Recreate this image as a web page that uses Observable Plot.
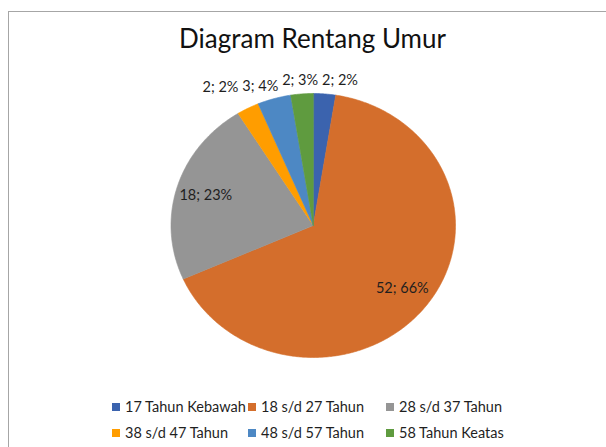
<!DOCTYPE html>
<html>
<head>
<meta charset="utf-8">
<script src="https://cdn.jsdelivr.net/npm/d3@7"></script>
<script src="https://cdn.jsdelivr.net/npm/@observablehq/plot@0.6"></script>
<style>
  html, body { margin: 0; padding: 0; background: #fff; }
  body { width: 606px; height: 447px; position: relative; overflow: hidden; font-family: Lato, "Open Sans", sans-serif; }
  #frame { position: absolute; left: 8px; top: 11px; width: 700px; height: 600px; border-left: 1px solid #a6a6a6; border-top: 1px solid #a6a6a6; box-sizing: border-box; }
  #chart { position: absolute; left: 0; top: 0; }
  #title { position: absolute; left: 312.5px; top: 22px; transform: translateX(-50%); font-size: 26px; color: #111; white-space: nowrap; }
  #legend { position: absolute; left: 112px; top: 397px; display: grid; grid-template-columns: 136px 138px 137px; row-gap: 7px; font-size: 14.5px; color: #1f1f1f; }
  .item { display: flex; align-items: center; white-space: nowrap; height: 19px; }
  .sw { width: 8px; height: 8px; margin-right: 5px; flex: none; }
</style>
</head>
<body>
<div id="frame"></div>
<div id="chart"></div>
<div id="title">Diagram Rentang Umur</div>
<div id="legend"></div>
<script>
const titleText = "Diagram Rentang Umur";
const categories = ["17 Tahun Kebawah", "18 s/d 27 Tahun", "28 s/d 37 Tahun", "38 s/d 47 Tahun", "48 s/d 57 Tahun", "58 Tahun Keatas"];
const values = [2, 52, 18, 2, 3, 2];
const percents = [2, 66, 23, 2, 4, 3];
const colors = ["#3b63ae", "#d46e2c", "#959595", "#ff9d00", "#4d88c4", "#5f9b3f"];

const rows = categories.map((c, i) => ({key: c, value: values[i], label: `${values[i]}; ${percents[i]}%`}));

const arcs = d3.pie().sort(null).value(d => d.value)(rows);

// polygon points for each slice (unit circle, angle 0 at top, clockwise)
const pts = [];
for (const a of arcs) {
  const n = Math.max(2, Math.ceil((a.endAngle - a.startAngle) / 0.01));
  pts.push({key: a.data.key, x: 0, y: 0});
  for (let k = 0; k <= n; k++) {
    const t = a.startAngle + (a.endAngle - a.startAngle) * k / n;
    pts.push({key: a.data.key, x: Math.sin(t), y: Math.cos(t)});
  }
}

// labels: big slices inside, small slices outside above
const labels = arcs.map(a => {
  const m = (a.startAngle + a.endAngle) / 2;
  const share = a.data.value / d3.sum(values);
  if (share > 0.1) return {label: a.data.label, x: Math.sin(m) * 0.79, y: Math.cos(m) * 0.78, out: false};
  return {label: a.data.label, x: Math.sin(m) * 1.42, y: Math.max(Math.cos(m) * 1.1, 1.05), out: true};
});
// simple collision resolution for outside labels (horizontal)
const outs = labels.filter(d => d.out).sort((a, b) => a.x - b.x);
const minGap = 0.28;
for (let i = 1; i < outs.length; i++) {
  if (outs[i].x - outs[i - 1].x < minGap) outs[i].x = outs[i - 1].x + minGap;
}

const chart = Plot.plot({
  width: 606,
  height: 447,
  margin: 0,
  x: {domain: [-1, 1], range: [170.5, 455], axis: null},
  y: {domain: [-1, 1], range: [357, 93], axis: null},
  color: {domain: categories, range: colors},
  marks: [
    Plot.line(pts, {x: "x", y: "y", z: "key", fill: "key", stroke: "key", strokeWidth: 0.6, curve: "linear-closed"}),
    Plot.text(labels, {x: "x", y: "y", text: "label", fill: "#1f1f1f", fontSize: 14.5, fontFamily: "Lato, 'Open Sans', sans-serif"})
  ]
});
chart.style.background = "transparent";
document.getElementById("chart").appendChild(chart);

const legend = document.getElementById("legend");
categories.forEach((c, i) => {
  const it = document.createElement("div");
  it.className = "item";
  const sw = document.createElement("span");
  sw.className = "sw";
  sw.style.background = colors[i];
  const tx = document.createElement("span");
  tx.textContent = c;
  it.appendChild(sw);
  it.appendChild(tx);
  legend.appendChild(it);
});
document.getElementById("title").textContent = titleText;
</script>
</body>
</html>
